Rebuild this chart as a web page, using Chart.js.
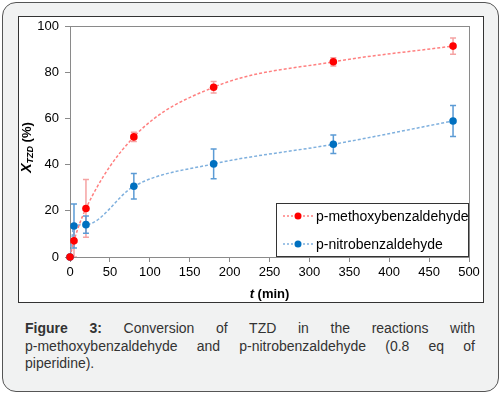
<!DOCTYPE html>
<html lang="en">
<head>
<meta charset="UTF-8">
<title>Conversion of TZD</title>
<script src="https://cdn.jsdelivr.net/npm/chart.js"></script>
<style>
  body { margin: 0; background: #fff; font-family: "Liberation Sans", Arial, sans-serif; }
  .card { position: absolute; left: 2px; top: 2px; width: 495px; height: 388px; border: 1.5px solid #555;
          border-radius: 14px; background: #f1f2f2; }
  .box { position: absolute; left: 18px; top: 16px; width: 464px; height: 285px; border: 1px solid #333; background: #fff; }
  .box canvas { display: block; }
  .caption { position: absolute; left: 25px; top: 320px; width: 450px; margin: 0; font-size: 14px;
             line-height: 17.5px; color: #333; }
  .caption span { display: block; text-align: justify; text-align-last: justify; white-space: nowrap; }
  .caption span.last { text-align-last: left; }
</style>
</head>
<body>
<div class="card"></div>
<div class="box"><canvas id="chart" width="464" height="285"></canvas></div>
<p class="caption"><span><b>Figure 3:</b> Conversion of TZD in the reactions with</span><span>p-methoxybenzaldehyde and p-nitrobenzaldehyde (0.8 eq of</span><span class="last">piperidine).</span></p>

<script>
// time points (min)
const times = [0, 5, 20, 80, 180, 330, 480];
// conversion X_TZD (%)
const methoxyValues = [0, 7, 21, 52, 73.5, 84.5, 91.3];
const methoxyErrors = [0, 7, 12.5, 2, 2.5, 1.8, 3.5];
const nitroValues = [0, 13.4, 14, 30.6, 40.3, 48.8, 58.9];
const nitroErrors = [0, 9.5, 3.7, 5.5, 6.4, 4, 6.7];
const seriesLabels = ['p-methoxybenzaldehyde', 'p-nitrobenzaldehyde'];
const xTicks = [0, 50, 100, 150, 200, 250, 300, 350, 400, 450, 500];
const yTicks = [0, 20, 40, 60, 80, 100];

const FONT = '"Liberation Sans", Arial, sans-serif';

function toPoints(vals) {
    return times.map((t, i) => ({ x: t, y: vals[i] }));
}

// error bars drawn through the scales
const errorBars = {
    id: 'errorBars',
    beforeDatasetsDraw(chart) {
        const ctx = chart.ctx;
        const xs = chart.scales.x, ys = chart.scales.y;
        chart.data.datasets.forEach(ds => {
            ctx.save();
            ctx.strokeStyle = ds.errorColor;
            ctx.lineWidth = 1.5;
            ds.data.forEach((p, i) => {
                const e = ds.errors[i];
                if (!e) return;
                const px = xs.getPixelForValue(p.x);
                const top = ys.getPixelForValue(Math.min(100, p.y + e));
                const bot = ys.getPixelForValue(Math.max(0, p.y - e));
                ctx.beginPath();
                ctx.moveTo(px, top); ctx.lineTo(px, bot);
                ctx.moveTo(px - 3, top); ctx.lineTo(px + 3, top);
                ctx.moveTo(px - 3, bot); ctx.lineTo(px + 3, bot);
                ctx.stroke();
            });
            ctx.restore();
        });
    }
};

// plot frame, axis titles and legend box
const decorations = {
    id: 'decorations',
    beforeDatasetsDraw(chart) {
        const ctx = chart.ctx, a = chart.chartArea;
        ctx.save();
        ctx.strokeStyle = '#8a8a8a';
        ctx.lineWidth = 1;
        ctx.strokeRect(a.left + 0.5, a.top + 0.5, a.right - a.left, a.bottom - a.top);
        ctx.restore();
    },
    afterDraw(chart) {
        const ctx = chart.ctx, a = chart.chartArea;
        ctx.save();
        ctx.fillStyle = '#000';
        ctx.textBaseline = 'middle';

        // x title: t (min)
        const cx = (a.left + a.right) / 2;
        ctx.font = 'italic bold 13px ' + FONT;
        const wT = ctx.measureText('t ').width;
        ctx.font = 'bold 13px ' + FONT;
        const wM = ctx.measureText('(min)').width;
        let x0 = cx - (wT + wM) / 2;
        ctx.textAlign = 'left';
        ctx.font = 'italic bold 13px ' + FONT;
        ctx.fillText('t ', x0, 277);
        ctx.font = 'bold 13px ' + FONT;
        ctx.fillText('(min)', x0 + wT, 277);

        // y title: X_TZD (%)
        ctx.translate(8, (a.top + a.bottom) / 2 + 6);
        ctx.rotate(-Math.PI / 2);
        ctx.font = 'italic bold 14px ' + FONT;
        const wX = ctx.measureText('X').width;
        ctx.font = 'italic bold 9px ' + FONT;
        const wS = ctx.measureText('TZD').width;
        ctx.font = 'bold 13px ' + FONT;
        const wP = ctx.measureText(' (%)').width;
        let y0 = -(wX + wS + wP) / 2;
        ctx.font = 'italic bold 14px ' + FONT;
        ctx.fillText('X', y0, 0);
        ctx.font = 'italic bold 9px ' + FONT;
        ctx.fillText('TZD', y0 + wX, 4);
        ctx.font = 'bold 13px ' + FONT;
        ctx.fillText(' (%)', y0 + wX + wS, 0);
        ctx.restore();

        // legend
        ctx.save();
        const lx = a.left + 206, ly = a.bottom - 54;
        ctx.fillStyle = '#fff';
        ctx.fillRect(lx, ly, a.right - lx, 53);
        ctx.strokeStyle = '#333';
        ctx.lineWidth = 1;
        ctx.strokeRect(lx + 0.5, ly + 0.5, a.right - lx - 1, 53);
        ctx.font = '14px ' + FONT;
        ctx.textBaseline = 'middle';
        ctx.textAlign = 'left';
        chart.data.datasets.forEach((ds, i) => {
            const yy = ly + 13 + i * 28;
            ctx.strokeStyle = ds.borderColor;
            ctx.lineWidth = 1.5;
            ctx.setLineDash([2, 2]);
            ctx.beginPath();
            ctx.moveTo(lx + 7, yy); ctx.lineTo(lx + 37, yy);
            ctx.stroke();
            ctx.setLineDash([]);
            ctx.fillStyle = ds.pointBackgroundColor;
            ctx.beginPath();
            ctx.arc(lx + 22, yy, 3.5, 0, Math.PI * 2);
            ctx.fill();
            ctx.fillStyle = '#000';
            ctx.fillText(ds.label, lx + 40, yy + 1);
        });
        ctx.restore();
    }
};

new Chart(document.getElementById('chart'), {
    type: 'line',
    data: {
        datasets: [{
            label: seriesLabels[0],
            data: toPoints(methoxyValues),
            errors: methoxyErrors,
            errorColor: '#f5a3a3',
            borderColor: '#ff8080',
            borderWidth: 1.5,
            borderDash: [3, 2],
            pointBackgroundColor: '#ff0000',
            pointBorderColor: '#ff0000',
            pointBorderWidth: 0,
            pointRadius: 3.8,
            cubicInterpolationMode: 'monotone'
        }, {
            label: seriesLabels[1],
            data: toPoints(nitroValues),
            errors: nitroErrors,
            errorColor: '#5b9bd5',
            borderColor: '#7fb0de',
            borderWidth: 1.5,
            borderDash: [3, 2],
            pointBackgroundColor: '#0070c0',
            pointBorderColor: '#0070c0',
            pointBorderWidth: 0,
            pointRadius: 3.8,
            cubicInterpolationMode: 'monotone'
        }]
    },
    options: {
        responsive: false,
        animation: false,
        clip: false,
        layout: { padding: { left: 5, right: 14, top: 9, bottom: 0 } },
        plugins: { legend: { display: false }, tooltip: { enabled: false } },
        scales: {
            x: {
                type: 'linear', min: 0, max: 500,
                afterBuildTicks: s => { s.ticks = xTicks.map(v => ({ value: v })); },
                afterFit: s => { s.height = 45; s.paddingLeft = 0; s.paddingRight = 0; },
                grid: { drawOnChartArea: false, tickLength: 5, color: '#8a8a8a' },
                border: { color: '#8a8a8a' },
                ticks: { color: '#000', font: { family: FONT, size: 13 }, padding: 3, maxRotation: 0 }
            },
            y: {
                min: 0, max: 100,
                afterBuildTicks: s => { s.ticks = yTicks.map(v => ({ value: v })); },
                afterFit: s => { s.width = 46; s.paddingTop = 0; s.paddingBottom = 0; },
                grid: { drawOnChartArea: false, tickLength: 5, color: '#8a8a8a' },
                border: { color: '#8a8a8a' },
                ticks: { color: '#000', font: { family: FONT, size: 13 }, padding: 6 }
            }
        }
    },
    plugins: [errorBars, decorations]
});
</script>
</body>
</html>
